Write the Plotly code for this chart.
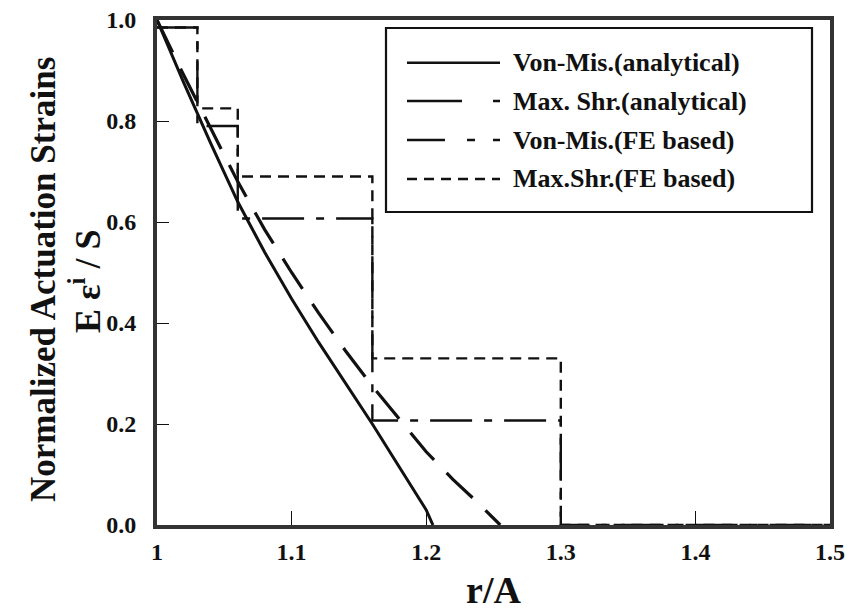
import plotly.graph_objects as go

# Analytical solutions (normalized actuation strain vs r/A)
vm_an_x = [1.00, 1.02, 1.04, 1.06, 1.08, 1.10, 1.12, 1.14, 1.16, 1.18, 1.20, 1.205]
vm_an_y = [1.00, 0.875, 0.755, 0.640, 0.540, 0.448, 0.362, 0.282, 0.200, 0.115, 0.030, 0.0]

ms_an_x = [1.00, 1.02, 1.04, 1.06, 1.08, 1.10, 1.12, 1.14, 1.16, 1.18, 1.20, 1.22, 1.24, 1.255]
ms_an_y = [1.00, 0.890, 0.785, 0.680, 0.585, 0.500, 0.420, 0.345, 0.275, 0.210, 0.145, 0.090, 0.040, 0.0]

# FE based piecewise-constant strains (element boundaries in r/A)
fe_x = [1.00, 1.03, 1.06, 1.16, 1.30, 1.50]
vm_fe_y = [0.985, 0.790, 0.607, 0.207, 0.0, 0.0]
ms_fe_y = [0.985, 0.825, 0.690, 0.330, 0.0, 0.0]

x_ticks = [1.0, 1.1, 1.2, 1.3, 1.4, 1.5]
x_tick_text = ["1", "1.1", "1.2", "1.3", "1.4", "1.5"]
y_ticks = [0.0, 0.2, 0.4, 0.6, 0.8, 1.0]
y_tick_text = ["0.0", "0.2", "0.4", "0.6", "0.8", "1.0"]

legend_names = [
    "Von-Mis.(analytical)",
    "Max. Shr.(analytical)",
    "Von-Mis.(FE based)",
    "Max.Shr.(FE based)",
]
y_title_lines = ["Normalized Actuation Strains", "E ε<sup>i</sup> / S"]

FONT = "Liberation Serif, Times New Roman, serif"
INK = "#111111"

fig = go.Figure()

fig.add_trace(go.Scatter(x=vm_an_x, y=vm_an_y, mode="lines", name=legend_names[0],
                         line=dict(color=INK, width=3, dash="solid"), showlegend=False))
fig.add_trace(go.Scatter(x=ms_an_x, y=ms_an_y, mode="lines", name=legend_names[1],
                         line=dict(color=INK, width=3.2, dash="36px,18px"), showlegend=False))
fig.add_trace(go.Scatter(x=fe_x, y=vm_fe_y, mode="lines", name=legend_names[2],
                         line=dict(color=INK, width=2.4, dash="42px,12px,8px,12px", shape="hv"),
                         showlegend=False))
fig.add_trace(go.Scatter(x=fe_x, y=ms_fe_y, mode="lines", name=legend_names[3],
                         line=dict(color=INK, width=2.4, dash="11px,7px", shape="hv"),
                         showlegend=False))

# Plot-area geometry in pixels, used to place the boxed key and titles
L, R, T, B = 157, 830, 20, 525
W, H = R - L, B - T


def px(xp):
    return (xp - L) / W


def py(yp):
    return (B - yp) / H


fig.add_shape(type="rect", xref="paper", yref="paper",
              x0=px(386), x1=px(812), y0=py(212), y1=py(28),
              line=dict(color=INK, width=2.2), fillcolor="white", layer="above")

key_dash = ["solid", "55px,31px,7px,100px", "38px,22px,8px,18px,7px,100px", "10px,7px"]
key_rows = [62.7, 101, 140, 179]
for name, dash, row in zip(legend_names, key_dash, key_rows):
    fig.add_shape(type="line", xref="paper", yref="paper",
                  x0=px(407), x1=px(500), y0=py(row), y1=py(row),
                  line=dict(color=INK, width=2.6, dash=dash), layer="above")
    fig.add_annotation(xref="paper", yref="paper", x=px(511), y=py(row),
                       xanchor="left", yanchor="middle", showarrow=False,
                       text=name, font=dict(family=FONT, size=26, color=INK, weight="bold"))

# Two-line vertical y-axis title
for text, xc, yc, fs in zip(y_title_lines, [43, 85], [280, 282], [35, 36]):
    fig.add_annotation(xref="paper", yref="paper", x=px(xc), y=py(yc),
                       xanchor="center", yanchor="middle", showarrow=False, textangle=-90,
                       text=text, font=dict(family=FONT, size=fs, color=INK, weight="bold"))

axis_common = dict(
    showline=True, mirror=True, linecolor="#333333", linewidth=4,
    ticks="inside", tickcolor=INK, tickwidth=1.2,
    showgrid=False, zeroline=False,
    tickfont=dict(family=FONT, size=24, color=INK, weight="bold"),
)

fig.update_xaxes(range=[1.0, 1.5], tickvals=x_ticks, ticktext=x_tick_text, ticklen=14,
                 ticklabelstandoff=2,
                 title=dict(text="r/A", font=dict(family=FONT, size=38, color=INK, weight="bold"),
                            standoff=14),
                 **axis_common)
fig.update_yaxes(range=[0.0, 1.0], tickvals=y_ticks, ticktext=y_tick_text, ticklen=12,
                 ticklabelstandoff=12, **axis_common)

fig.update_layout(
    width=850, height=614,
    margin=dict(l=L, r=850 - R, t=T, b=614 - B, autoexpand=False),
    paper_bgcolor="white", plot_bgcolor="white",
    showlegend=False,
)

fig.write_html("out.html")
